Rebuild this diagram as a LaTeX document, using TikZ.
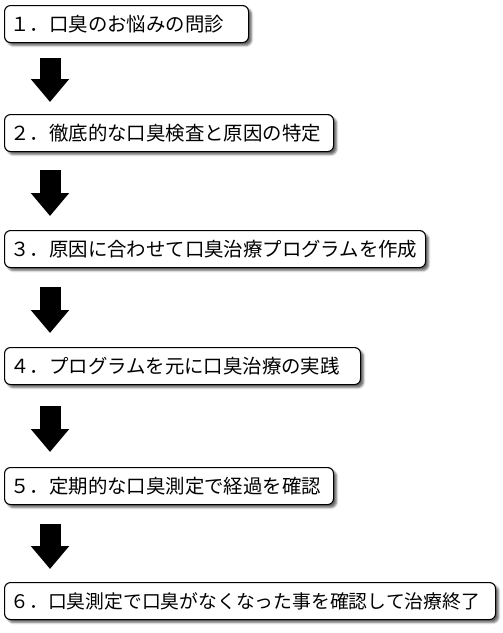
\documentclass[tikz,border=0pt]{standalone}
\usepackage{fontspec}
\setmainfont{Noto Sans CJK JP}
\usetikzlibrary{arrows.meta,shadows.blur}

\begin{document}
\begin{tikzpicture}[x=1pt,y=-1pt,
  stepbox/.style={draw=black,line width=1.1pt,fill=white,rounded corners=6pt,anchor=north west,
    inner xsep=6pt,inner ysep=0pt,minimum height=37pt,align=left,font=\fontsize{19.4pt}{22pt}\selectfont,
    blur shadow={shadow xshift=3pt,shadow yshift=-3pt,shadow blur radius=2pt,shadow opacity=60}},
  flow/.style={line width=21pt,-{Triangle[width=37pt,length=23pt]}}]
\useasboundingbox (0,0) rectangle (503,633);
% steps
\node[stepbox,text width=232pt] (s1) at (4,5) {１．口臭のお悩みの問診};
\node[stepbox,text width=317pt] (s2) at (4,114) {２．徹底的な口臭検査と原因の特定};
\node[stepbox,text width=409pt] (s3) at (4,230) {３．原因に合わせて口臭治療プログラムを作成};
\node[stepbox,text width=344pt] (s4) at (4,347) {４．プログラムを元に口臭治療の実践};
\node[stepbox,text width=317pt] (s5) at (4,467) {５．定期的な口臭測定で経過を確認};
\node[stepbox,text width=479pt,font=\fontsize{18.8pt}{22pt}\selectfont] (s6) at (4,582) {６．口臭測定で口臭がなくなった事を確認して治療終了};
% arrows
\foreach \a/\b/\p/\q in {1/2/15/12,2/3/18/14,3/4/19/14,4/5/21/15,5/6/19/13}
  \draw[flow,shorten <=\p pt,shorten >=\q pt] ([xshift=46pt]s\a.south west) -- ([xshift=46pt]s\b.north west);
\end{tikzpicture}
\end{document}
